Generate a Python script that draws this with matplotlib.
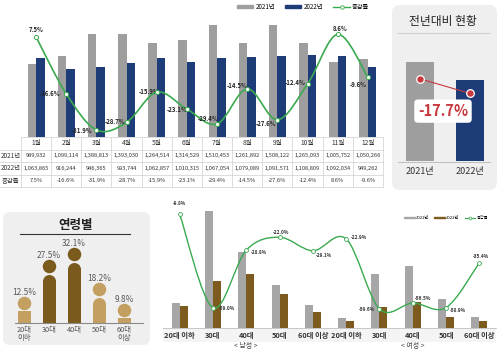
import numpy as np
import matplotlib
matplotlib.use("Agg")
import matplotlib.pyplot as plt
from matplotlib.patches import FancyBboxPatch, Rectangle, PathPatch, Patch
from matplotlib.path import Path
from matplotlib.lines import Line2D
from matplotlib.transforms import IdentityTransform, offset_copy

plt.rcParams["font.family"] = ["Noto Sans CJK KR", "DejaVu Sans"]

C_GRAY  = "#9e9e9e"
C_NAVY  = "#1e3c78"
C_GREEN = "#3aaa50"
C_BROWN = "#7b5a1e"
C_TAN   = "#c3a062"
C_PANEL = "#efefef"
C_RED   = "#c8383d"
C_LINE  = "#cfcfcf"
C_TEXT  = "#333333"

# ── data ─────────────────────────────────────────────────────────
months     = [f"{m}월" for m in range(1, 13)]
sales_2021 = [989932, 1099114, 1388813, 1393030, 1264514, 1314529,
              1510453, 1261892, 1508122, 1265093, 1005752, 1050266]
sales_2022 = [1063865, 916244, 946365, 993744, 1062857, 1010315,
              1067054, 1079089, 1091571, 1108809, 1092034, 949262]
yoy_rate   = [7.5, -16.6, -31.9, -28.7, -15.9, -23.1,
              -29.4, -14.5, -27.6, -12.4, 8.6, -9.6]

age_groups = ["20대\n이하", "30대", "40대", "50대", "60대\n이상"]
age_share  = [12.5, 27.5, 32.1, 18.2, 9.8]

gender_ages = ["20대 이하", "30대", "40대", "50대", "60대 이상"] * 2
gender_2021 = [25, 117, 76, 43, 23, 10, 54, 62, 29, 11]
gender_2022 = [22, 47, 54, 34, 16, 7, 21, 26, 11, 7]
gender_rate = [-9.8, -59.0, -28.8, -22.0, -29.1, -22.9, -59.6, -56.5, -58.9, -35.4]

W, H = 500, 353
fig = plt.figure(figsize=(5, 3.53), dpi=100)
fig.patch.set_facecolor("white")


def box(x0, y0, x1, y1):
    # pixel box (y from top) -> figure fraction rect
    return [x0 / W, 1 - y1 / H, (x1 - x0) / W, (y1 - y0) / H]


def panel(x0, y0, x1, y1, r=7, fc=C_PANEL):
    fig.patches.append(FancyBboxPatch(
        (x0, H - y1), x1 - x0, y1 - y0,
        boxstyle=f"round,pad=0,rounding_size={r}",
        transform=IdentityTransform(), fc=fc, ec="none", zorder=-2))


def hline(x0, x1, y, color, lw):
    fig.add_artist(Line2D([x0 / W, x1 / W], [1 - y / H] * 2, color=color, lw=lw))


def smooth(ax, x, y, **kw):
    # Catmull-Rom style smoothed line through the data points
    x = np.asarray(x, float); y = np.asarray(y, float)
    n = len(x)
    verts = [(x[0], y[0])]; codes = [Path.MOVETO]
    for i in range(n - 1):
        xa, ya = (x[i - 1], y[i - 1]) if i > 0 else (x[i], y[i])
        xb, yb = (x[i + 2], y[i + 2]) if i + 2 < n else (x[i + 1], y[i + 1])
        c1 = (x[i] + (x[i + 1] - xa) / 6, y[i] + (y[i + 1] - ya) / 6)
        c2 = (x[i + 1] - (xb - x[i]) / 6, y[i + 1] - (yb - y[i]) / 6)
        verts += [c1, c2, (x[i + 1], y[i + 1])]
        codes += [Path.CURVE4] * 3
    ax.add_patch(PathPatch(Path(verts, codes), fill=False, **kw))


PT = 0.72  # px -> pt at 100 dpi

# ── Chart 1: monthly bars + rate line ─────────────────────────────
ax1 = fig.add_axes(box(21, 20, 383, 137))
x = np.arange(12)
ax1.bar(x - 0.14, sales_2021, 0.28, color=C_GRAY)
ax1.bar(x + 0.14, sales_2022, 0.28, color=C_NAVY)
ax1.set_xlim(-0.5, 11.5)
ax1.set_ylim(0, max(sales_2021) * 117 / 112)
ax1.axis("off")

ax1b = ax1.twinx()
ax1b.set_ylim(-34.9, 14.7)
ax1b.axis("off")
smooth(ax1b, x, yoy_rate, color=C_GREEN, lw=1.2, zorder=3)
ax1b.plot(x, yoy_rate, "o", ms=3, mfc="white", mec=C_GREEN, mew=0.7, zorder=4)
offs1 = [(0, -7), (-16, 0), (-14, 1), (-12, -1), (-8, -1), (-10, 0),
         (-9, -6), (-10, -3), (-11, 4), (-12, -1), (2, -6), (-10, 7)]
for xi, r, (dx, dy) in zip(x, yoy_rate, offs1):
    ax1b.annotate(f"{r}%", (xi, r), xytext=(dx * PT, -dy * PT), textcoords="offset points",
                  ha="center", va="center", fontsize=4.3, fontweight="bold", color="#222")

h1 = [Patch(color=C_GRAY), Patch(color=C_NAVY),
      Line2D([], [], color=C_GREEN, lw=1, marker="o", ms=2.5, mfc="white", mec=C_GREEN, mew=0.6)]
fig.legend(h1, ["2021년", "2022년", "증감률"], loc="center", bbox_to_anchor=(303 / W, 1 - 7 / H),
           ncol=3, fontsize=4.5, frameon=False, handlelength=2.6, handleheight=0.35,
           columnspacing=1.6, handletextpad=0.4)

# table under chart 1
axt = fig.add_axes(box(21, 137, 383, 187))
axt.set_xlim(-0.5, 11.5); axt.set_ylim(4, 0); axt.axis("off")
unit = 362 / 12
left_x = -0.5 - 21 / unit
lab_x = -0.5 - 10.5 / unit
for r in range(5):
    axt.plot([-0.5 if r == 0 else left_x, 11.5], [r, r], color=C_LINE, lw=0.5, clip_on=False)
for c in range(13):
    axt.plot([c - 0.5] * 2, [0, 4], color=C_LINE, lw=0.5, clip_on=False)
for i in range(12):
    axt.text(i, 0.5, months[i], ha="center", va="center", fontsize=4.8, color=C_TEXT)
    axt.text(i, 1.5, f"{sales_2021[i]:,}", ha="center", va="center", fontsize=4.1, color=C_TEXT)
    axt.text(i, 2.5, f"{sales_2022[i]:,}", ha="center", va="center", fontsize=4.1, color=C_TEXT)
    axt.text(i, 3.5, f"{yoy_rate[i]}%", ha="center", va="center", fontsize=4.1, color=C_TEXT)
for r, lab in zip([1.5, 2.5, 3.5], ["2021년", "2022년", "증감률"]):
    axt.text(lab_x, r, lab, ha="center", va="center", fontsize=4.6, color=C_TEXT, clip_on=False)

# ── Chart 2: year-over-year panel ────────────────────────────────
panel(392, 5, 497, 190, r=8)
fig.text(443 / W, 1 - 22 / H, "전년대비 현황", ha="center", va="center", fontsize=8.5, color="#222")
hline(398, 490, 33, "#d0d0d0", 0.8)

totals = [sum(sales_2021), sum(sales_2022)]
change = (totals[1] / totals[0] - 1) * 100
ax2 = fig.add_axes(box(395, 45, 495, 161))
ax2.bar([0, 1], totals, 0.56, color=[C_GRAY, C_NAVY])
ax2.set_xlim(-0.5, 1.5); ax2.set_ylim(0, totals[0] * 116 / 99)
ax2.axis("off")
dots = [t * 0.83 for t in totals]
ax2.plot([0, 1], dots, color=C_RED, lw=0.8)
ax2.plot([0, 1], dots, "o", ms=5.5, mfc=C_RED, mec="white", mew=0.9)
ax2.text(0.48, 0.43, f"{change:.1f}%", transform=ax2.transAxes, ha="center", va="center",
         fontsize=10.5, fontweight="bold", color=C_RED,
         bbox=dict(boxstyle="round,pad=0.25", fc="white", ec="none"))
hline(398, 490, 161.5, "#b5b5b5", 0.6)
for xx, lab in zip([420, 470], ["2021년", "2022년"]):
    fig.text(xx / W, 1 - 172 / H, lab, ha="center", va="center", fontsize=6.5, color=C_TEXT)

# ── Chart 3: age share ───────────────────────────────────────────
panel(3, 212, 150, 345, r=7)
fig.text(76 / W, 1 - 225 / H, "연령별", ha="center", va="center", fontsize=9,
         fontweight="bold", color="#222")
hline(20, 130, 234, "#333333", 0.8)

ax3 = fig.add_axes(box(11.5, 240, 136.5, 323))
base = 7.8
ax3.set_xlim(-0.5, 4.5); ax3.set_ylim(base, base + 83 / 2.47)
ax3.axis("off")
px_per = 83 / (ax3.get_ylim()[1] - base)
r_px = 6.5
age_colors = [C_TAN, C_BROWN, C_BROWN, C_TAN, C_TAN]
head_tr = offset_copy(ax3.transData, fig=fig, y=8.5, units="dots")
for i, (v, col) in enumerate(zip(age_share, age_colors)):
    h_px = (v - base) * px_per
    if h_px > 2 * r_px:
        top = v - r_px / px_per
        ax3.bar(i, top - base, 0.52, bottom=base, color=col)
        ax3.scatter([i], [top], s=(13 * PT) ** 2, color=col, linewidths=0, zorder=3)
    else:
        ax3.bar(i, v - base, 0.52, bottom=base, color=col)
    ax3.scatter([i], [v], s=(13.5 * PT) ** 2, color=col, linewidths=0, transform=head_tr,
                zorder=3, clip_on=False)
    ax3.annotate(f"{v}%", (i, v), xytext=(0, 14.5 * PT), textcoords="offset points",
                 ha="center", va="bottom", fontsize=6, color="#5a5a5a")
    ax3.annotate(age_groups[i], (i, base), xytext=(0, -3 * PT), textcoords="offset points",
                 ha="center", va="top", fontsize=5.3, color="#555", linespacing=0.95)
hline(15, 143, 323, "#8a8a8a", 0.8)

# ── Chart 4: gender x age bars + rate line ───────────────────────
fig.patches.append(Rectangle((163, H - 342), 333, 14, transform=IdentityTransform(),
                             fc="#f4f4f4", ec="none", zorder=-2))
ax4 = fig.add_axes(box(163, 205, 496, 328))
ax4.patch.set_alpha(0)
xs = np.arange(10)
ax4.bar(xs - 0.12, gender_2021, 0.24, color="#a6a6a6")
ax4.bar(xs + 0.12, gender_2022, 0.24, color="#7d5b1f")
ax4.set_xlim(-0.5, 9.5); ax4.set_ylim(0, 123)
ax4.set_xticks(xs, gender_ages, fontsize=5.3, fontweight="bold", color=C_TEXT)
ax4.tick_params(length=0, pad=3)
ax4.set_yticks([])
for s in ["top", "right", "left"]:
    ax4.spines[s].set_visible(False)
ax4.spines["bottom"].set_color("#c0c0c0"); ax4.spines["bottom"].set_linewidth(0.6)

ax4b = ax4.twinx()
ax4b.set_ylim(-69.6, -5.1)
ax4b.axis("off")
smooth(ax4b, xs, gender_rate, color=C_GREEN, lw=1.0, zorder=3)
ax4b.plot(xs, gender_rate, "o", ms=2.8, mfc="white", mec=C_GREEN, mew=0.6, zorder=4)
offs4 = [(0, -10, "center"), (6, 1, "left"), (5, 2, "left"), (1, -5, "center"),
         (3, 5, "left"), (5, -1, "left"), (-4, 1, "right"), (2, -5, "left"),
         (4, 3, "left"), (2, -6, "center")]
for xi, r, (dx, dy, ha) in zip(xs, gender_rate, offs4):
    ax4b.annotate(f"{r}%", (xi, r), xytext=(dx * PT, -dy * PT), textcoords="offset points",
                  ha=ha, va="center", fontsize=3.4, fontweight="bold", color="#333")

for xx, lab in zip([246, 413], ["< 남성 >", "< 여성 >"]):
    fig.text(xx / W, 1 - 346 / H, lab, ha="center", va="center", fontsize=5, color="#444")

h4 = [Patch(color="#a6a6a6"), Patch(color="#7d5b1f"),
      Line2D([], [], color=C_GREEN, lw=0.8, marker="o", ms=2, mfc="white", mec=C_GREEN, mew=0.5)]
fig.legend(h4, ["2021년", "2022년", "증감률"], loc="center", bbox_to_anchor=(446 / W, 1 - 218 / H),
           ncol=3, fontsize=3, frameon=False, handlelength=2.6, handleheight=0.3,
           columnspacing=1.2, handletextpad=0.3)

fig.savefig("out.png", dpi=100, facecolor="white")
